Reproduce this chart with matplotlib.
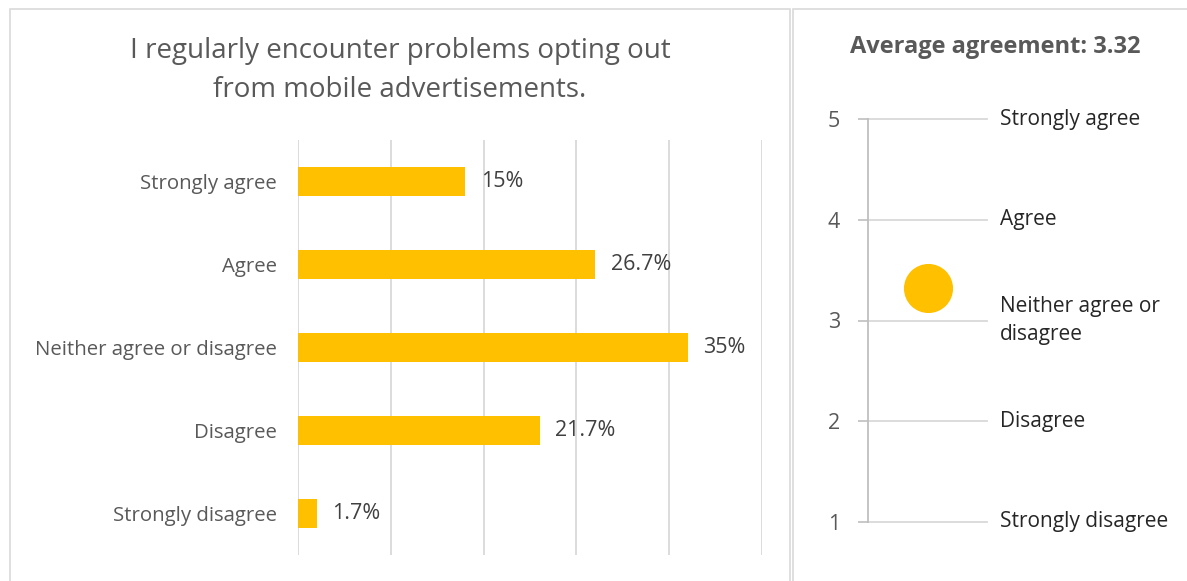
import numpy as np
import matplotlib.pyplot as plt
from matplotlib.patches import Rectangle

categories = ['Strongly agree', 'Agree', 'Neither agree or disagree', 'Disagree', 'Strongly disagree']
shares = [15.0, 26.7, 35.0, 21.7, 1.7]
share_labels = ['15%', '26.7%', '35%', '21.7%', '1.7%']
scale_levels = [5, 4, 3, 2, 1]
scale_labels = ['Strongly agree', 'Agree', 'Neither agree or\ndisagree', 'Disagree', 'Strongly disagree']
avg_agreement = 3.32

plt.rcParams['font.family'] = ['Open Sans', 'DejaVu Sans']
gold = '#FFC000'
grey_txt = '#595959'

fig = plt.figure(figsize=(11.87, 5.81), dpi=100)
W, H = 1187., 581.

# panel frames (bottom/right edges run off the image)
fig.patches.append(Rectangle((10/W, -0.05), 780/W, 1.05-9/H, transform=fig.transFigure,
	fill=False, edgecolor='#d9d9d9', lw=1.2))
fig.patches.append(Rectangle((793/W, -0.05), 420/W, 1.05-9/H, transform=fig.transFigure,
	fill=False, edgecolor='#d9d9d9', lw=1.2))

# left: bar chart
ax = fig.add_axes([298/W, 1-555/H, 464/W, 415/H])
y = np.arange(len(categories))
ax.barh(y, np.array(shares)/100., height=0.36, color=gold, zorder=3)
ax.set_ylim(len(categories)-0.5, -0.5)
ax.set_xlim(0, 5/12.)
ax.set_xticks(np.arange(6)/12.)
ax.set_xticklabels([])
ax.tick_params(axis='x', length=0)
ax.grid(axis='x', color='#d9d9d9', lw=1.3, zorder=0)
ax.set_yticks(y)
ax.set_yticklabels(categories, fontsize=14.7, color=grey_txt)
ax.tick_params(axis='y', length=0, pad=15)
for s in ax.spines.values():
	s.set_visible(False)
for i in range(len(shares)):
	ax.text(shares[i]/100. + 0.014, y[i], share_labels[i], va='center', ha='left',
		fontsize=15.5, color='#404040')
fig.text(400/W, 1-51/H, 'I regularly encounter problems opting out', ha='center', va='center',
	fontsize=20, color=grey_txt)
fig.text(400/W, 1-90/H, 'from mobile advertisements.', ha='center', va='center',
	fontsize=20, color=grey_txt)

# right: average agreement
ax2 = fig.add_axes([868/W, 1-522/H, 119/W, 403/H])
ax2.set_ylim(1, 5)
ax2.set_xlim(0, 2)
for lv in scale_levels:
	ax2.axhline(lv, color='#d9d9d9', lw=1.3, zorder=1, clip_on=False)
ax2.scatter([1], [avg_agreement], s=1250, color=gold, zorder=3, clip_on=False, linewidths=0)
ax2.set_yticks(scale_levels)
ax2.set_yticklabels([str(v) for v in scale_levels], fontsize=15.5, color=grey_txt)
ax2.tick_params(axis='y', length=7, color='#bfbfbf', width=1.2, pad=13)
ax2.set_xticks([])
for k in ['top', 'right', 'bottom']:
	ax2.spines[k].set_visible(False)
ax2.spines['left'].set_color('#bfbfbf')
ax2.spines['left'].set_linewidth(1.3)
for lv, lab in zip(scale_levels, scale_labels):
	ax2.text(2.22, lv, lab, ha='left', va='center', fontsize=15, color='#262626',
		clip_on=False, linespacing=1.4)
fig.text(995/W, 1-47/H, 'Average agreement: 3.32', ha='center', va='center',
	fontsize=17, fontweight='bold', color=grey_txt)

fig.savefig('out.png', dpi=100)
